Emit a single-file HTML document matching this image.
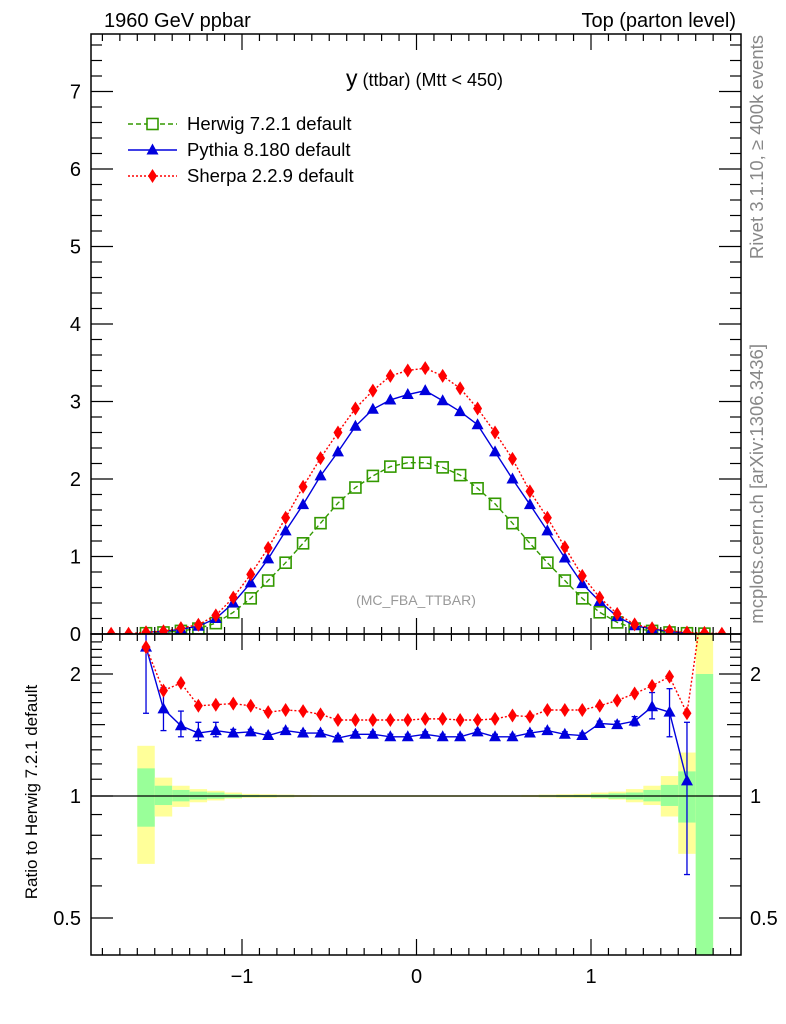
<!DOCTYPE html>
<html><head><meta charset="utf-8"><style>
body{margin:0;background:#fff}
svg{display:block;font-family:"Liberation Sans",sans-serif}
</style></head><body>
<svg id="c" width="786" height="1024" viewBox="0 0 786 1024"></svg>
<script>
// ---- data ----
const herwigX0 = -1.55;
const herwigMain = [0.01,0.02,0.04,0.07,0.14,0.28,0.46,0.69,0.92,1.17,1.43,1.69,1.89,2.04,2.16,2.21,2.21,2.15,2.05,1.88,1.68,1.43,1.17,0.92,0.69,0.46,0.28,0.15,0.07,0.04,0.02,0.01,0.005];
const pythiaX0 = -1.55;
const pythiaMain = [0.023,0.033,0.06,0.10,0.20,0.40,0.66,0.97,1.33,1.67,2.04,2.35,2.68,2.90,3.02,3.09,3.14,3.01,2.87,2.70,2.35,2.00,1.67,1.33,0.98,0.65,0.42,0.225,0.107,0.066,0.032,0.011];
const sherpaX0 = -1.75;
const sherpaMain = [0.003,0.004,0.023,0.036,0.076,0.12,0.24,0.47,0.77,1.11,1.50,1.90,2.27,2.60,2.91,3.14,3.33,3.40,3.43,3.33,3.17,2.91,2.60,2.26,1.84,1.50,1.12,0.75,0.47,0.26,0.125,0.075,0.04,0.02,0.015,0.004];
const pythiaRatio = [2.33,1.64,1.49,1.43,1.45,1.43,1.44,1.41,1.45,1.43,1.43,1.39,1.42,1.42,1.40,1.40,1.42,1.40,1.40,1.44,1.40,1.40,1.43,1.45,1.42,1.41,1.51,1.50,1.53,1.66,1.61,1.09];
const pythiaErrHi = [2.8,1.85,1.62,1.52,1.52,1.46,1.46,1.43,1.47,1.45,1.45,1.41,1.44,1.44,1.42,1.42,1.44,1.42,1.42,1.46,1.42,1.42,1.45,1.47,1.44,1.43,1.53,1.53,1.57,1.80,1.84,1.52];
const pythiaErrLo = [1.60,1.45,1.40,1.37,1.40,1.40,1.42,1.39,1.43,1.41,1.41,1.37,1.40,1.40,1.38,1.38,1.40,1.38,1.38,1.42,1.38,1.38,1.41,1.43,1.40,1.39,1.49,1.47,1.49,1.55,1.40,0.64];
const sherpaRatioX0 = -1.55;
const sherpaRatio = [2.33,1.82,1.90,1.67,1.68,1.69,1.67,1.61,1.63,1.62,1.59,1.54,1.54,1.54,1.54,1.54,1.55,1.55,1.54,1.54,1.55,1.58,1.57,1.63,1.63,1.63,1.67,1.72,1.79,1.87,1.97,1.60,3.2];
const greenHi = [1.17,1.06,1.035,1.025,1.02,1.01,1.006,1.005,1.004,1.003,1.003,1.003,1.003,1.003,1.003,1.003,1.003,1.003,1.003,1.003,1.003,1.003,1.003,1.004,1.005,1.006,1.01,1.015,1.02,1.035,1.065,1.15,2.0];
const greenLo = [0.84,0.95,0.97,0.98,0.985,0.99,0.994,0.995,0.996,0.997,0.997,0.997,0.997,0.997,0.997,0.997,0.997,0.997,0.997,0.997,0.997,0.997,0.997,0.996,0.995,0.994,0.99,0.985,0.98,0.97,0.945,0.86,0.3];
const yellowHi = [1.33,1.11,1.06,1.04,1.03,1.02,1.012,1.01,1.008,1.006,1.005,1.005,1.005,1.005,1.005,1.005,1.005,1.005,1.005,1.005,1.005,1.005,1.006,1.008,1.01,1.012,1.02,1.025,1.04,1.06,1.12,1.28,3.0];
const yellowLo = [0.68,0.89,0.94,0.965,0.975,0.985,0.99,0.99,0.992,0.994,0.995,0.995,0.995,0.995,0.995,0.995,0.995,0.995,0.995,0.995,0.995,0.995,0.994,0.992,0.99,0.99,0.985,0.98,0.965,0.95,0.89,0.72,0.3];
const mainYTicks = ["0","1","2","3","4","5","6","7"];
const xTickLabels = ["\u22121","0","1"];
const ratioTickVals = [0.5,1,2];
const ratioTickLabels = ["0.5","1","2"];

// ---- geometry ----
const L=91,R=741,T=34,MB=634,RB=955;
const X=v=>416.5+v*174.5;
const Ym=v=>MB-v*77.5;
const YrRaw=v=>796-122*Math.log2(v);
const svg=document.getElementById('c');
const NS='http://www.w3.org/2000/svg';
function mk(tag,attrs,parent){const e=document.createElementNS(NS,tag);for(const k in attrs)e.setAttribute(k,attrs[k]);(parent||svg).appendChild(e);return e;}
function txt(s,attrs,parent){const e=mk('text',attrs,parent);e.textContent=s;return e;}

const defs=mk('defs',{});
const cp1=mk('clipPath',{id:'cm'},defs);mk('rect',{x:L,y:T,width:R-L,height:MB-T},cp1);
const cp2=mk('clipPath',{id:'cr'},defs);mk('rect',{x:L,y:MB,width:R-L,height:RB-MB},cp2);

const bands=mk('g',{'clip-path':'url(#cr)'});


herwigMain.forEach((_,i)=>{
  const c=herwigX0+i*0.1, x1=X(c-0.05), w=X(c+0.05)-x1;
  const yb=mk('rect',{x:x1,y:YrRaw(yellowHi[i]),width:w,height:YrRaw(yellowLo[i])-YrRaw(yellowHi[i]),fill:'#ffff99'},bands);
  
  
  const gb=mk('rect',{x:x1,y:YrRaw(greenHi[i]),width:w,height:YrRaw(greenLo[i])-YrRaw(greenHi[i]),fill:'#99ff99'},bands);
  
  
});
mk('line',{x1:L,x2:R,y1:YrRaw(1),y2:YrRaw(1),stroke:'#000','stroke-width':1.2});

function square(g,x,y,col){mk('rect',{x:x-5.5,y:y-5.5,width:11,height:11,fill:'none',stroke:col,'stroke-width':1.6},g);}
function tri(g,x,y,col){mk('polygon',{points:`${x},${y-6.5} ${x-6},${y+4.5} ${x+6},${y+4.5}`,fill:col},g);}
function dia(g,x,y,col){mk('polygon',{points:`${x},${y-7} ${x+4.5},${y} ${x},${y+7} ${x-4.5},${y}`,fill:col},g);}

const gm=mk('g',{'clip-path':'url(#cm)'});
function series(name,x0,vals,col,dash,marker,Yf,g){
  const sg=mk('g',{},g);
  
  
  const pts=vals.map((v,i)=>[X(x0+i*0.1),Yf(v)]);
  mk('polyline',{points:pts.map(p=>p.join(',')).join(' '),fill:'none',stroke:col,'stroke-width':1.4,'stroke-dasharray':dash},sg);
  pts.forEach(p=>marker(sg,p[0],p[1],col));
  return sg;
}
series('herwig-main-series',herwigX0,herwigMain,'#339900','5,3',square,Ym,gm);
series('pythia-main-series',pythiaX0,pythiaMain,'#0000dd','',tri,Ym,gm);
series('sherpa-main-series',sherpaX0,sherpaMain,'#ff0000','2,2',dia,Ym,gm);

const gr=mk('g',{'clip-path':'url(#cr)'});
const pe=mk('g',{},gr);


pythiaRatio.forEach((v,i)=>{
  const x=X(pythiaX0+i*0.1);
  mk('line',{x1:x,x2:x,y1:YrRaw(pythiaErrHi[i]),y2:YrRaw(pythiaErrLo[i]),stroke:'#0000dd','stroke-width':1.3},pe);
  mk('line',{x1:x-3,x2:x+3,y1:YrRaw(pythiaErrHi[i]),y2:YrRaw(pythiaErrHi[i]),stroke:'#0000dd','stroke-width':1.3},pe);
  mk('line',{x1:x-3,x2:x+3,y1:YrRaw(pythiaErrLo[i]),y2:YrRaw(pythiaErrLo[i]),stroke:'#0000dd','stroke-width':1.3},pe);
});
series('pythia-ratio-series',pythiaX0,pythiaRatio,'#0000dd','',tri,YrRaw,gr);
series('sherpa-ratio-series',sherpaRatioX0,sherpaRatio,'#ff0000','2,2',dia,YrRaw,gr);

const fr1=mk('rect',{x:L,y:T,width:R-L,height:MB-T,fill:'none',stroke:'#000','stroke-width':1.5});

const fr2=mk('rect',{x:L,y:MB,width:R-L,height:RB-MB,fill:'none',stroke:'#000','stroke-width':1.5});


const tk=mk('g',{stroke:'#000','stroke-width':1.2});

for(let k=-18;k<=18;k++){
  const v=k/10,x=X(v);if(x<L||x>R)continue;
  const len=(k%10===0)?16:7;
  [[T,T+len],[MB,MB-len],[MB,MB+len],[RB,RB-len]].forEach(a=>mk('line',{x1:x,x2:x,y1:a[0],y2:a[1]},tk));
}
for(let k=0;k<=38;k++){
  const v=k*0.2,y=Ym(v);if(y<T)continue;
  const len=(k%5===0)?22:11;
  mk('line',{x1:L,x2:L+len,y1:y,y2:y},tk);mk('line',{x1:R,x2:R-len,y1:y,y2:y},tk);
}
[0.4,0.5,0.6,0.7,0.8,0.9,1,1.1,1.2,1.3,1.4,1.5,1.6,1.7,1.8,1.9,2,2.1,2.2,2.3,2.4].forEach(v=>{
  const y=YrRaw(v);if(y<MB||y>RB)return;
  const len=(v===0.5||v===1||v===2)?22:(v===1.5?14:11);
  mk('line',{x1:L,x2:L+len,y1:y,y2:y},tk);mk('line',{x1:R,x2:R-len,y1:y,y2:y},tk);
});

mainYTicks.forEach((s,i)=>{const t=txt(s,{x:81,y:Ym(i)+7,'font-size':20,'text-anchor':'end'});
  });
[-1,0,1].forEach((v,i)=>{const t=txt(xTickLabels[i],{x:X(v),y:983,'font-size':20,'text-anchor':'middle'});
  });
ratioTickVals.forEach((v,i)=>{
  const t=txt(ratioTickLabels[i],{x:81,y:YrRaw(v)+7,'font-size':20,'text-anchor':'end'});
  
  const t2=txt(ratioTickLabels[i],{x:750,y:YrRaw(v)+7,'font-size':20,'text-anchor':'start'});
  
});
</script>
<script>
(function(){
const svg=document.getElementById('c');const NS='http://www.w3.org/2000/svg';
function t(s,a,name){const e=document.createElementNS(NS,'text');for(const k in a)e.setAttribute(k,a[k]);e.textContent=s;
  
  
  svg.appendChild(e);return e;}
t('1960 GeV ppbar',{x:104,y:27,'font-size':20},'energy-label');
t('Top (parton level)',{x:736,y:27,'font-size':20,'text-anchor':'end'},'process-label');
const ti=t('',{x:503,y:86,'font-size':18,'text-anchor':'end'},'plot-title');
ti.innerHTML='<tspan font-size="23">y</tspan> (ttbar) (Mtt &lt; 450)';
t('(MC_FBA_TTBAR)',{x:416,y:605,'font-size':14,fill:'#999','text-anchor':'middle'},'analysis-id');
t('Rivet 3.1.10, \u2265 400k events',{x:0,y:0,'font-size':18.5,fill:'#888','text-anchor':'end',transform:'translate(763,35) rotate(-90)'},'rivet-version-label');
t('mcplots.cern.ch [arXiv:1306.3436]',{x:0,y:0,'font-size':18.5,fill:'#888','text-anchor':'end',transform:'translate(763,344) rotate(-90)'},'mcplots-label');
t('Ratio to Herwig 7.2.1 default',{x:0,y:0,'font-size':17,'text-anchor':'middle',transform:'translate(37,792) rotate(-90)'},'ratio-y-axis-title');
const rows=[['Herwig 7.2.1 default','#339900','5,3','sq',124],['Pythia 8.180 default','#0000dd','','tri',150],['Sherpa 2.2.9 default','#ff0000','2,2','dia',176]];
rows.forEach(r=>{
  const g=document.createElementNS(NS,'g');
  
  
  svg.appendChild(g);
  const y=r[4];
  let s=`<line x1="128" x2="177" y1="${y}" y2="${y}" stroke="${r[1]}" stroke-width="1.4" stroke-dasharray="${r[2]}"/>`;
  if(r[3]==='sq')s+=`<rect x="147" y="${y-5.5}" width="11" height="11" fill="#fff" stroke="${r[1]}" stroke-width="1.6"/>`;
  if(r[3]==='tri')s+=`<polygon points="152.5,${y-6.5} 146.5,${y+4.5} 158.5,${y+4.5}" fill="${r[1]}"/>`;
  if(r[3]==='dia')s+=`<polygon points="152.5,${y-7} 157,${y} 152.5,${y+7} 148,${y}" fill="${r[1]}"/>`;
  s+=`<text x="187" y="${y+6}" font-size="18.5">${r[0]}</text>`;
  g.innerHTML=s;
});
})();
</script>
</body></html>
